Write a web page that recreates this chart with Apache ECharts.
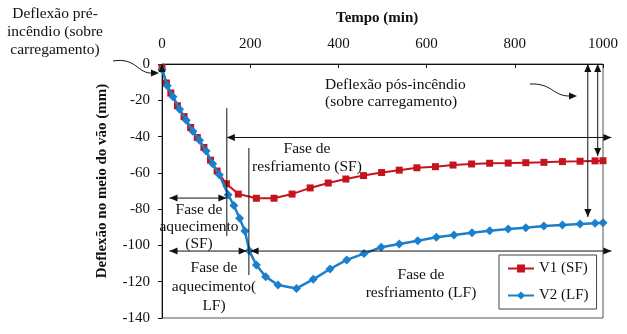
<!DOCTYPE html>
<html><head><meta charset="utf-8">
<script src="https://cdn.jsdelivr.net/npm/echarts@6/dist/echarts.min.js"></script>
<style>html,body{margin:0;padding:0;background:#fff}#c{width:627px;height:334px}</style>
</head><body><div id="c"></div>
<script>
// ---- data ----
const xTicks = [0, 200, 400, 600, 800, 1000];
const yTicks = [0, -20, -40, -60, -80, -100, -120, -140];
const seriesNames = ['V1 (SF)', 'V2 (LF)'];
const v1Time = [0, 10, 20, 35, 50, 65, 80, 95, 110, 125, 146, 173, 214, 254, 295, 336, 377, 417, 457, 498, 538, 578, 620, 660, 702, 743, 785, 825, 866, 908, 948, 982, 1000];
const v1Defl = [-2, -10.5, -16, -23, -29, -35, -40.5, -46, -53, -59, -66, -71.7, -74, -74, -71.7, -68.3, -65.6, -63.4, -61.5, -59.8, -58.5, -57.2, -56.6, -55.7, -55.1, -54.7, -54.6, -54.4, -54.2, -53.8, -53.6, -53.4, -53.3];
const v2Time = [0, 12, 25, 40, 55, 70, 85, 100, 115, 130, 150, 163, 176, 188, 198, 214, 235, 263, 305, 343, 381, 419, 458, 497, 538, 580, 622, 662, 703, 743, 785, 825, 866, 908, 948, 982, 1000];
const v2Defl = [-3, -12, -18, -25, -31, -37, -42, -48, -55, -61, -72, -78, -85, -92, -103, -110.8, -117.2, -121.8, -123.7, -118.7, -113, -108, -104.5, -101, -99.2, -97.4, -95.5, -94.2, -93, -91.9, -91, -90.2, -89.3, -88.8, -88.2, -87.8, -87.5];
const annotationTexts = {
  pre: 'Deflexão pré-\nincêndio (sobre\ncarregamento)',
  pos: 'Deflexão pós-incêndio\n(sobre carregamento)',
  resfSF: 'Fase de\nresfriamento (SF)',
  aqSF: 'Fase de\naquecimento\n(SF)',
  aqLF: 'Fase de\naquecimento(\nLF)',
  resfLF: 'Fase de\nresfriamento (LF)'
};
const xTitle = 'Tempo (min)';
const yTitle = 'Deflexão no meio do vão (mm)';

// ---- chart ----
const SERIF = '"Liberation Serif", "DejaVu Serif", serif';
const chart = echarts.init(document.getElementById('c'), null, {renderer: 'canvas'});
const zip = (a, b) => a.map((t, i) => [t, b[i]]);

chart.setOption({
  animation: false,
  backgroundColor: '#fff',
  title: {
    text: xTitle, left: 336, top: 11, padding: 0,
    textStyle: {fontFamily: SERIF, fontSize: 15, fontWeight: 'bold', color: '#111'}
  },
  grid: {left: 162, right: 24, top: 64, bottom: 16, show: true, borderColor: '#555', borderWidth: 1, backgroundColor: 'transparent'},
  legend: {
    data: seriesNames, orient: 'vertical', left: 499, top: 255,
    padding: [6, 8], itemGap: 12, itemWidth: 26, itemHeight: 10,
    backgroundColor: '#fff', borderColor: '#444', borderWidth: 1,
    textStyle: {fontFamily: SERIF, fontSize: 15, color: '#111'}
  },
  xAxis: {
    type: 'value', position: 'top', min: xTicks[0], max: xTicks[xTicks.length - 1], interval: 200,
    axisLine: {show: true, lineStyle: {color: '#111', width: 1}},
    axisTick: {show: true, inside: true, length: 4, lineStyle: {color: '#111'}},
    axisLabel: {fontFamily: SERIF, fontSize: 15, color: '#111', margin: 12, formatter: v => String(v)},
    splitLine: {show: false}
  },
  yAxis: {
    type: 'value', min: yTicks[yTicks.length - 1], max: yTicks[0], interval: 20,
    axisLine: {show: true, onZero: false, lineStyle: {color: '#111', width: 1}},
    axisTick: {show: true, length: 4, lineStyle: {color: '#111'}},
    axisLabel: {fontFamily: SERIF, fontSize: 15, color: '#111', margin: 12, formatter: v => String(v)},
    splitLine: {show: false}
  },
  series: [
    {name: seriesNames[0], type: 'line', data: zip(v1Time, v1Defl), symbol: 'rect', symbolSize: 7,
     itemStyle: {color: '#C4141E'}, lineStyle: {color: '#C4141E', width: 2}, z: 2},
    {name: seriesNames[1], type: 'line', data: zip(v2Time, v2Defl), symbol: 'diamond', symbolSize: 9,
     itemStyle: {color: '#1C7FCB'}, lineStyle: {color: '#1C7FCB', width: 2.5}, z: 3}
  ]
});

// ---- annotations (positions in data units, converted through the grid) ----
const P = (t, d) => chart.convertToPixel({gridIndex: 0}, [t, d]);
const g = [];
const INK = '#111';
const AFONT = '15.5px ' + SERIF;
function head(tip, from) {
  const dx = tip[0] - from[0], dy = tip[1] - from[1];
  const L = Math.hypot(dx, dy) || 1, ux = dx / L, uy = dy / L;
  const len = 8, w = 3.5;
  const bx = tip[0] - ux * len, by = tip[1] - uy * len;
  g.push({type: 'polygon', z: 10, shape: {points: [tip, [bx - uy * w, by + ux * w], [bx + uy * w, by - ux * w]]}, style: {fill: INK}});
}
function seg(a, b, headA, headB) {
  g.push({type: 'line', z: 10, shape: {x1: a[0], y1: a[1], x2: b[0], y2: b[1]}, style: {stroke: INK, lineWidth: 1}});
  if (headA) head(a, b);
  if (headB) head(b, a);
}
function text(str, x, y, align, lh) {
  g.push({type: 'text', z: 11, x: x, y: y, style: {text: str, font: AFONT, fill: INK, align: align, verticalAlign: 'top', lineHeight: lh}});
}

// vertical separators
seg(P(147, -24.3), P(147, -94.8), false, false);
seg(P(197, -46.3), P(197, -116.3), false, false);
// phase arrows
seg(P(147, -40.5), P(1019, -40.5), true, true);
seg(P(17, -73.9), P(146, -73.9), true, true);
seg(P(17, -103.1), P(192, -103.1), true, true);
seg(P(201, -103.1), P(1019, -103.1), true, true);
// post-fire deflection arrows
seg(P(965.5, 0), P(965.5, -84.3), true, true);
seg(P(988, 0), P(988, -50.7), true, true);
// pre-fire small arrow at origin
seg(P(0, 0), P(0, -3.5), true, false);

// curved pointer arrows
g.push({type: 'bezierCurve', z: 10, shape: {x1: 113, y1: 61, cpx1: 136, cpy1: 57, cpx2: 138, cpy2: 74, x2: 152, y2: 73}, style: {stroke: INK, lineWidth: 1, fill: null}});
head([159, 73], [150, 73]);
g.push({type: 'bezierCurve', z: 10, shape: {x1: 530, y1: 84, cpx1: 552, cpy1: 83, cpx2: 553, cpy2: 96, x2: 569, y2: 96}, style: {stroke: INK, lineWidth: 1, fill: null}});
head([577, 96], [568, 96]);

// texts
text(annotationTexts.pre, 55, 5, 'center', 18);
text(annotationTexts.pos, 325, 76, 'left', 17.5);
text(annotationTexts.resfSF, 307, 140, 'center', 18);
text(annotationTexts.aqSF, 199, 201, 'center', 17);
text(annotationTexts.aqLF, 214, 258, 'center', 19);
text(annotationTexts.resfLF, 421, 266, 'center', 18);
// y axis title
g.push({type: 'text', z: 11, x: 102, y: 181, rotation: Math.PI / 2,
  style: {text: yTitle, font: 'bold 15px ' + SERIF, fill: INK, align: 'center', verticalAlign: 'middle'}});

chart.setOption({graphic: g});
</script>
</body></html>
